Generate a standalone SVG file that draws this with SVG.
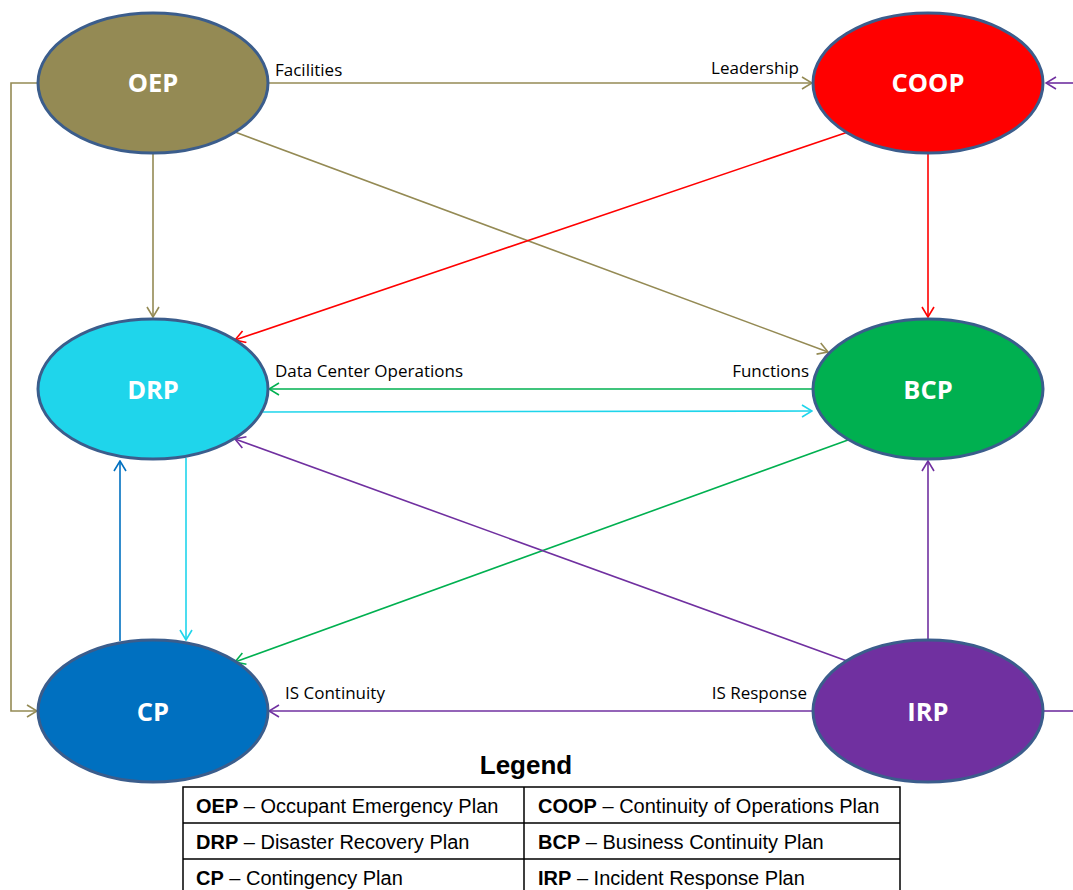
<svg xmlns="http://www.w3.org/2000/svg" width="1073" height="890" viewBox="0 0 1073 890">
  <style>
    .node ellipse { stroke: #3B5D8C; stroke-width: 3; }
    .node text { font-family: "Open Sans", "Liberation Sans", sans-serif; font-weight: bold; font-size: 25.5px; fill: #FFFFFF; text-anchor: middle; }
    .conn path { fill: none; stroke-width: 1.6; }
    .lbl { font-family: "Open Sans", "Liberation Sans", sans-serif; font-size: 17px; fill: #000000; }
    .end { text-anchor: end; }
    .olive { stroke: #948A54; }
    .red { stroke: #FF0000; }
    .green { stroke: #00B050; }
    .cyan { stroke: #1FD5EB; }
    .purple { stroke: #7030A0; }
    .blue { stroke: #0070C0; }
    .leg { font-family: "Liberation Sans", Arial, sans-serif; font-size: 20px; fill: #000000; }
    .leg tspan.b { font-weight: bold; }
    .legtitle { font-family: "Liberation Sans", Arial, sans-serif; font-size: 26px; font-weight: bold; text-anchor: middle; }
    .grid { fill: none; stroke: #000000; stroke-width: 1.5; }
  </style>
  <defs>
    <marker id="a-olive" viewBox="0 0 12 14" refX="11" refY="7" markerWidth="12" markerHeight="14" markerUnits="userSpaceOnUse" orient="auto"><path d="M1,1 L11,7 L1,13" fill="none" stroke="#948A54" stroke-width="1.6"/></marker>
    <marker id="a-red" viewBox="0 0 12 14" refX="11" refY="7" markerWidth="12" markerHeight="14" markerUnits="userSpaceOnUse" orient="auto"><path d="M1,1 L11,7 L1,13" fill="none" stroke="#FF0000" stroke-width="1.6"/></marker>
    <marker id="a-green" viewBox="0 0 12 14" refX="11" refY="7" markerWidth="12" markerHeight="14" markerUnits="userSpaceOnUse" orient="auto"><path d="M1,1 L11,7 L1,13" fill="none" stroke="#00B050" stroke-width="1.6"/></marker>
    <marker id="a-cyan" viewBox="0 0 12 14" refX="11" refY="7" markerWidth="12" markerHeight="14" markerUnits="userSpaceOnUse" orient="auto"><path d="M1,1 L11,7 L1,13" fill="none" stroke="#1FD5EB" stroke-width="1.6"/></marker>
    <marker id="a-purple" viewBox="0 0 12 14" refX="11" refY="7" markerWidth="12" markerHeight="14" markerUnits="userSpaceOnUse" orient="auto"><path d="M1,1 L11,7 L1,13" fill="none" stroke="#7030A0" stroke-width="1.6"/></marker>
    <marker id="a-blue" viewBox="0 0 12 14" refX="11" refY="7" markerWidth="12" markerHeight="14" markerUnits="userSpaceOnUse" orient="auto"><path d="M1,1 L11,7 L1,13" fill="none" stroke="#0070C0" stroke-width="1.6"/></marker>
  </defs>
  <rect width="1073" height="890" fill="#FFFFFF"/>

  <g id="connectors" class="conn">
    <path class="olive" d="M268,83 L812,83" marker-end="url(#a-olive)"/>
    <path class="olive" d="M39,83 H11 V711 H37" marker-end="url(#a-olive)"/>
    <path class="olive" d="M153,154 V317" marker-end="url(#a-olive)"/>
    <path class="olive" d="M235,132 L828,352" marker-end="url(#a-olive)"/>
    <path class="red" d="M848,132 L235,340" marker-end="url(#a-red)"/>
    <path class="red" d="M928,154 V317" marker-end="url(#a-red)"/>
    <path class="purple" d="M1073,83 H1046" marker-end="url(#a-purple)"/>
    <path class="green" d="M813,389 H269" marker-end="url(#a-green)"/>
    <path class="cyan" d="M263,412 L812,411" marker-end="url(#a-cyan)"/>
    <path class="green" d="M848,440 L235,662" marker-end="url(#a-green)"/>
    <path class="purple" d="M847,661 L235,439" marker-end="url(#a-purple)"/>
    <path class="purple" d="M928,640 V461" marker-end="url(#a-purple)"/>
    <path class="purple" d="M813,711 H269" marker-end="url(#a-purple)"/>
    <path class="purple" d="M1043,711 H1073"/>
    <path class="blue" d="M120,641 V461" marker-end="url(#a-blue)"/>
    <path class="cyan" d="M186,458 V640" marker-end="url(#a-cyan)"/>
    <text class="lbl" x="275" y="76">Facilities</text>
    <text class="lbl end" x="799" y="74">Leadership</text>
    <text class="lbl" x="275" y="377">Data Center Operations</text>
    <text class="lbl end" x="809" y="377">Functions</text>
    <text class="lbl" x="285" y="699">IS Continuity</text>
    <text class="lbl end" x="807" y="699">IS Response</text>
  </g>

  <g id="node-oep" class="node">
    <ellipse cx="153" cy="83" rx="115" ry="70" fill="#948A54"/>
    <text x="153" y="92">OEP</text>
  </g>
  <g id="node-coop" class="node">
    <ellipse cx="928" cy="83" rx="115" ry="70" fill="#FF0000"/>
    <text x="928" y="92">COOP</text>
  </g>
  <g id="node-drp" class="node">
    <ellipse cx="153" cy="389" rx="115" ry="70" fill="#1FD5EB"/>
    <text x="153" y="399">DRP</text>
  </g>
  <g id="node-bcp" class="node">
    <ellipse cx="928" cy="389" rx="115" ry="70" fill="#00B050"/>
    <text x="928" y="399">BCP</text>
  </g>
  <g id="node-cp" class="node">
    <ellipse cx="153" cy="711" rx="115" ry="71" fill="#0070C0"/>
    <text x="153" y="721">CP</text>
  </g>
  <g id="node-irp" class="node">
    <ellipse cx="928" cy="711" rx="115" ry="71" fill="#7030A0"/>
    <text x="928" y="721">IRP</text>
  </g>

  <g id="legend">
    <text class="legtitle" x="526" y="774">Legend</text>
    <rect class="grid" x="183" y="787" width="717" height="110" fill="#FFFFFF"/>
    <path class="grid" d="M524,787 V897 M183,823 H900 M183,859 H900"/>
    <text class="leg" x="196" y="813"><tspan class="b">OEP</tspan> – Occupant Emergency Plan</text>
    <text class="leg" x="196" y="849"><tspan class="b">DRP</tspan> – Disaster Recovery Plan</text>
    <text class="leg" x="196" y="885"><tspan class="b">CP</tspan> – Contingency Plan</text>
    <text class="leg" x="538" y="813"><tspan class="b">COOP</tspan> – Continuity of Operations Plan</text>
    <text class="leg" x="538" y="849"><tspan class="b">BCP</tspan> – Business Continuity Plan</text>
    <text class="leg" x="538" y="885"><tspan class="b">IRP</tspan> – Incident Response Plan</text>
  </g>
</svg>
